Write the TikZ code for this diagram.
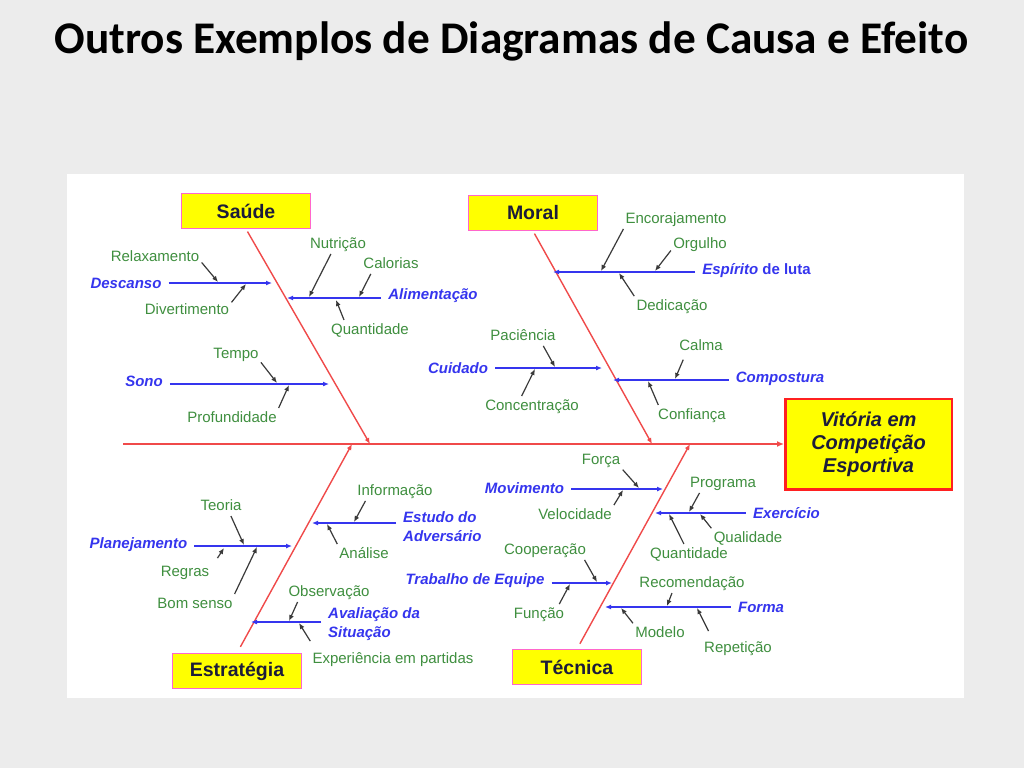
\documentclass[tikz,border=0pt]{standalone}
\usepackage{fontspec}
\setmainfont{Liberation Sans}
\newfontfamily\titlefont{Carlito}
\usepackage{xcolor}
\usepackage{tikz}
\usetikzlibrary{arrows.meta}
\definecolor{slidegray}{HTML}{ECECEC}
\definecolor{boxyellow}{HTML}{FFFF00}
\definecolor{boxpink}{HTML}{FF66CC}
\definecolor{boxtext}{HTML}{1C1C3A}
\definecolor{effectred}{HTML}{FF2020}
\definecolor{bonered}{HTML}{F04A4A}
\definecolor{causeblue}{HTML}{3535EE}
\definecolor{factorgreen}{HTML}{3F8F3F}
\definecolor{arrowgray}{HTML}{3A3A3A}

\begin{document}
\begin{tikzpicture}[x=1pt, y=-1pt,
  catbox/.style={draw=boxpink, line width=1.2pt, fill=boxyellow, minimum width=128.8pt, minimum height=34.8pt, font=\fontsize{19.5}{22}\selectfont\bfseries, text=boxtext},
  bone/.style={draw=bonered, line width=1.4pt, -{Latex[length=6pt,width=5pt]}},
  cause/.style={font=\fontsize{15}{19}\selectfont\bfseries\itshape, text=causeblue, inner sep=1pt},
  causeline/.style={draw=causeblue, line width=1.4pt, shorten <=6pt, -{Latex[length=6pt,width=5pt]}},
  factor/.style={font=\fontsize{15}{18}\selectfont, text=factorgreen, inner sep=1pt, text height=11pt, text depth=3pt},
  factorarrow/.style={draw=arrowgray, line width=1.2pt, shorten <=2pt, -{Latex[length=6pt,width=5pt]}}]
  % slide and panel
  \fill[slidegray] (0,0) rectangle (1024,768);
  \fill[white] (67,174) rectangle (964,698);
  \useasboundingbox (0,0) rectangle (1024,768);
  \node[font=\titlefont\fontsize{45.3}{54}\selectfont\bfseries, anchor=base] (title) at (511.5,53) {Outros Exemplos de Diagramas de Causa e Efeito};
  % effect and spine
  \node[draw=effectred, line width=2.5pt, fill=boxyellow, minimum width=166.5pt, minimum height=90.5pt, align=center, font=\fontsize{20}{23}\selectfont\bfseries\itshape, text=boxtext] (effect) at (868.5,444) {Vitória em\\Competição\\Esportiva};
  \coordinate (spine-tail) at (123,444);
  \draw[bone, -{Latex[length=7pt,width=6pt]}] (spine-tail) -- (effect.west);
  % categories
  \node[catbox] (saude) at (246,211) {Saúde};
  \node[catbox] (moral) at (533,213) {Moral};
  \node[catbox] (estrategia) at (237,671) {Estratégia};
  \node[catbox] (tecnica) at (577,667) {Técnica};
  \coordinate (saude-tip) at (370,444);
  \coordinate (moral-tip) at (652,444);
  \coordinate (estrategia-tip) at (352,444);
  \coordinate (tecnica-tip) at (690,444);
  \draw[bone, shorten <=3pt] (saude.south) -- (saude-tip);
  \draw[bone, shorten <=3pt] (moral.south) -- (moral-tip);
  \draw[bone, shorten <=7pt] (estrategia.north) -- (estrategia-tip);
  \draw[bone, shorten <=6pt] (tecnica.north) -- (tecnica-tip);
  % Saude
  \node[cause] (descanso) at (126,283) {Descanso};
  \node[cause] (alimentacao) at (433,296) {Alimentação};
  \node[cause] (sono) at (144,381) {Sono};
  \coordinate (descanso-end) at (272,283);
  \coordinate (alimentacao-end) at (287,298);
  \coordinate (sono-end) at (329,384);
  \draw[causeline] (descanso.east |- descanso-end) -- (descanso-end);
  \draw[causeline] (alimentacao.west |- alimentacao-end) -- (alimentacao-end);
  \draw[causeline] (sono.east |- sono-end) -- (sono-end);
  \node[factor] (relaxamento) at (155,257) {Relaxamento};
  \node[factor] (divertimento) at (187,310) {Divertimento};
  \node[factor] (nutricao) at (338,244) {Nutrição};
  \node[factor] (calorias) at (391,264) {Calorias};
  \node[factor] (quantidade) at (370,330) {Quantidade};
  \node[factor] (tempo) at (236,354) {Tempo};
  \node[factor] (profundidade) at (232,418) {Profundidade};
  \coordinate (relaxamento-tip) at (218,282);
  \coordinate (divertimento-tip) at (246,284);
  \coordinate (nutricao-tip) at (309,297);
  \coordinate (calorias-tip) at (359,297);
  \coordinate (quantidade-tip) at (336,300);
  \coordinate (tempo-tip) at (277,383);
  \coordinate (profundidade-tip) at (289,385);
  \draw[factorarrow] (relaxamento.-5) -- (relaxamento-tip);
  \draw[factorarrow] (divertimento.8) -- (divertimento-tip);
  \draw[factorarrow] (nutricao.-127) -- (nutricao-tip);
  \draw[factorarrow] (calorias.-157) -- (calorias-tip);
  \draw[factorarrow] (quantidade.162) -- (quantidade-tip);
  \draw[factorarrow] (tempo.-16) -- (tempo-tip);
  \draw[factorarrow] (profundidade.north east) -- (profundidade-tip);
  % Moral
  \node[cause] (espirito) at (756.5,271) {Espírito {\upshape de luta}};
  \node[cause] (cuidado) at (458,368) {Cuidado};
  \node[cause] (compostura) at (780,379) {Compostura};
  \coordinate (espirito-end) at (553,272);
  \coordinate (cuidado-end) at (602,368);
  \coordinate (compostura-end) at (613,380);
  \draw[causeline] (espirito.west |- espirito-end) -- (espirito-end);
  \draw[causeline] (cuidado.east |- cuidado-end) -- (cuidado-end);
  \draw[causeline] (compostura.west |- compostura-end) -- (compostura-end);
  \node[factor] (encorajamento) at (676,219) {Encorajamento};
  \node[factor] (orgulho) at (700,244) {Orgulho};
  \node[factor] (dedicacao) at (672,306) {Dedicação};
  \node[factor] (paciencia) at (523,336) {Paciência};
  \node[factor] (concentracao) at (532,406) {Concentração};
  \node[factor] (calma) at (701,346) {Calma};
  \node[factor] (confianca) at (692,415) {Confiança};
  \coordinate (encorajamento-tip) at (601,271);
  \coordinate (orgulho-tip) at (655,271);
  \coordinate (dedicacao-tip) at (619,273);
  \coordinate (paciencia-tip) at (555,367);
  \coordinate (concentracao-tip) at (535,369);
  \coordinate (calma-tip) at (675,379);
  \coordinate (confianca-tip) at (648,381);
  \draw[factorarrow] (encorajamento.south west) -- (encorajamento-tip);
  \draw[factorarrow] (orgulho.-170) -- (orgulho-tip);
  \draw[factorarrow] (dedicacao.north west) -- (dedicacao-tip);
  \draw[factorarrow] (paciencia.-23) -- (paciencia-tip);
  \draw[factorarrow] (concentracao.144) -- (concentracao-tip);
  \draw[factorarrow, shorten <=6pt] (calma.-152) -- (calma-tip);
  \draw[factorarrow] (confianca.166) -- (confianca-tip);
  % Estrategia
  \node[cause, align=left, anchor=west] (estudo) at (402,527) {Estudo do\\Adversário};
  \node[cause] (planejamento) at (138.5,545) {Planejamento};
  \node[cause, align=left, anchor=west] (avaliacao) at (327,624) {Avaliação da\\Situação};
  \coordinate (estudo-end) at (312,523);
  \coordinate (planejamento-end) at (292,546);
  \coordinate (avaliacao-end) at (251,622);
  \draw[causeline] (estudo.west |- estudo-end) -- (estudo-end);
  \draw[causeline] (planejamento.east |- planejamento-end) -- (planejamento-end);
  \draw[causeline] (avaliacao.west |- avaliacao-end) -- (avaliacao-end);
  \node[factor] (informacao) at (395,491) {Informação};
  \node[factor] (analise) at (364,554) {Análise};
  \node[factor] (teoria) at (221,506) {Teoria};
  \node[factor] (regras) at (185,572) {Regras};
  \node[factor] (bomsenso) at (195,604) {Bom senso};
  \node[factor] (observacao) at (329,592) {Observação};
  \node[factor] (experiencia) at (393,659) {Experiência em partidas};
  \coordinate (informacao-tip) at (354,522);
  \coordinate (analise-tip) at (327,524);
  \coordinate (teoria-tip) at (244,545);
  \coordinate (regras-tip) at (224,548);
  \coordinate (bomsenso-tip) at (257,547);
  \coordinate (observacao-tip) at (289,621);
  \coordinate (experiencia-tip) at (299,623);
  \draw[factorarrow] (informacao.-164) -- (informacao-tip);
  \draw[factorarrow] (analise.north west) -- (analise-tip);
  \draw[factorarrow] (teoria.-42) -- (teoria-tip);
  \draw[factorarrow] ([xshift=6pt,yshift=4pt]regras.north east) -- (regras-tip);
  \draw[factorarrow] (bomsenso.north east) -- (bomsenso-tip);
  \draw[factorarrow] (observacao.-165) -- (observacao-tip);
  \draw[factorarrow] ([yshift=8pt]experiencia.north west) -- (experiencia-tip);
  % Tecnica
  \node[cause] (movimento) at (524.5,488) {Movimento};
  \node[cause] (exercicio) at (786.5,513) {Exercício};
  \node[cause] (trabalho) at (475,581) {Trabalho de Equipe};
  \node[cause] (forma) at (761,607) {Forma};
  \coordinate (movimento-end) at (663,489);
  \coordinate (exercicio-end) at (655,513);
  \coordinate (trabalho-end) at (612,583);
  \coordinate (forma-end) at (605,607);
  \draw[causeline] (movimento.east |- movimento-end) -- (movimento-end);
  \draw[causeline] (exercicio.west |- exercicio-end) -- (exercicio-end);
  \draw[causeline] (trabalho.east |- trabalho-end) -- (trabalho-end);
  \draw[causeline] (forma.west |- forma-end) -- (forma-end);
  \node[factor] (forca) at (601,460) {Força};
  \node[factor] (velocidade) at (575,515) {Velocidade};
  \node[factor] (programa) at (723,483) {Programa};
  \node[factor] (qualidade) at (748,538) {Qualidade};
  \node[factor] (quantidade2) at (689,554) {Quantidade};
  \node[factor] (cooperacao) at (545,550) {Cooperação};
  \node[factor] (funcao) at (539,614) {Função};
  \node[factor] (recomendacao) at (692,583) {Recomendação};
  \node[factor] (modelo) at (660,633) {Modelo};
  \node[factor] (repeticao) at (738,648) {Repetição};
  \coordinate (forca-tip) at (639,488);
  \coordinate (velocidade-tip) at (623,490);
  \coordinate (programa-tip) at (689,512);
  \coordinate (qualidade-tip) at (700,514);
  \coordinate (quantidade2-tip) at (669,514);
  \coordinate (cooperacao-tip) at (597,582);
  \coordinate (funcao-tip) at (570,584);
  \coordinate (recomendacao-tip) at (667,606);
  \coordinate (modelo-tip) at (621,608);
  \coordinate (repeticao-tip) at (697,608);
  \draw[factorarrow] (forca.south east) -- (forca-tip);
  \draw[factorarrow] (velocidade.north east) -- (velocidade-tip);
  \draw[factorarrow] (programa.-160) -- (programa-tip);
  \draw[factorarrow] (qualidade.north west) -- (qualidade-tip);
  \draw[factorarrow] (quantidade2.117) -- (quantidade2-tip);
  \draw[factorarrow] (cooperacao.-12) -- (cooperacao-tip);
  \draw[factorarrow] (funcao.23) -- (funcao-tip);
  \draw[factorarrow] (recomendacao.-157) -- (recomendacao-tip);
  \draw[factorarrow] (modelo.north west) -- (modelo-tip);
  \draw[factorarrow] ([yshift=7pt]repeticao.164) -- (repeticao-tip);
\end{tikzpicture}
\end{document}
